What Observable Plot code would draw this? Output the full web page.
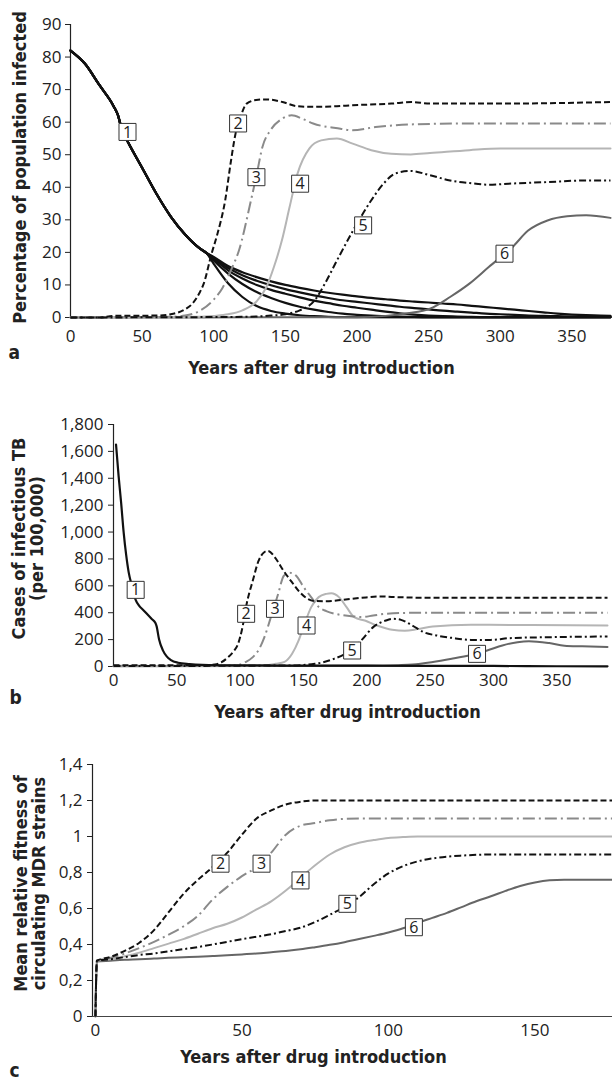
<!DOCTYPE html>
<html><head><meta charset="utf-8">
<script src="https://cdn.jsdelivr.net/npm/d3@7"></script>
<script src="https://cdn.jsdelivr.net/npm/@observablehq/plot@0.6"></script>
<style>
body{margin:0;background:#fff;}
#root{position:relative;width:612px;height:1088px;overflow:hidden;background:#fff;}
.panel{position:absolute;left:0;}
</style></head><body><div id="root"></div>
<script>
// ---------- Panel a: Percentage of population infected ----------
const a1Trunk = [[0,82],[10,78],[20,71.5],[30,65],[33,62.3],[36,57.5],[40,54],[50,46],[60,38],[70,31],[80,25.5],[90,21.3],[95,19.8]];
const a1BranchA = [[100,16.5],[110,10.5],[120,6.3],[130,3.5],[140,2],[150,1.2],[160,0.7],[170,0.4],[180,0.2],[190,0.1],[250,0.05],[377,0.05]];
const a1BranchB = [[100,17.5],[110,13.5],[120,10.3],[130,7.8],[140,6],[150,4.5],[160,3.3],[170,2.4],[180,1.7],[190,1.2],[200,0.8],[210,0.6],[220,0.4],[230,0.3],[240,0.2],[260,0.1],[377,0.1]];
const a1BranchC = [[100,18],[110,14.5],[120,12],[130,10],[140,8.5],[150,7.3],[160,6.2],[170,5.2],[180,4.4],[190,3.6],[200,3],[210,2.4],[220,1.8],[230,1.3],[240,0.9],[250,0.6],[260,0.4],[270,0.3],[280,0.2],[300,0.1],[377,0.1]];
const a1BranchD = [[100,18.3],[110,15.2],[120,13],[130,11.3],[140,9.9],[150,8.7],[160,7.7],[170,6.8],[180,6],[190,5.3],[200,4.8],[210,4.3],[220,3.8],[230,3.3],[240,2.9],[250,2.5],[260,2.1],[270,1.8],[280,1.5],[290,1.2],[300,1],[310,0.8],[320,0.6],[330,0.5],[340,0.4],[350,0.3],[377,0.2]];
const a1BranchE = [[100,18.6],[110,15.8],[120,13.9],[130,12.4],[140,11.1],[150,10],[160,9.1],[170,8.3],[180,7.6],[190,7],[200,6.5],[210,6],[220,5.6],[230,5.2],[240,4.9],[250,4.6],[260,4.3],[270,4],[280,3.6],[290,3.2],[300,2.8],[310,2.4],[320,2],[330,1.6],[340,1.2],[350,0.9],[360,0.7],[370,0.6],[377,0.5]];
const a2 = [[0,0],[20,0],[30,0.5],[60,0.6],[70,1],[80,2.5],[85,4.2],[90,7.5],[93,10.4],[98.5,19.6],[102.6,25.7],[108,36],[112,48],[115,56],[119,62],[123,65.7],[131,66.9],[137,67],[148,66.2],[158,64.9],[169,64.7],[186,64.9],[197,65.2],[224,65.7],[238,66.2],[251,65.7],[300,65.7],[377,66.2]];
const a3 = [[0,0],[70,0.2],[80,0.6],[90,2],[100,5.5],[106,9],[112,14.5],[117.6,20.6],[126,36],[130,44],[134,52.4],[139.6,57.5],[147.6,61],[154.4,62.1],[162,61],[169.4,59.6],[188.5,58],[196.7,57.5],[213,58.5],[237.6,59.3],[280,59.6],[377,59.6]];
const a4 = [[0,0],[90,0.2],[100,0.5],[110,1],[120,2.2],[130,5],[136.7,9.3],[142,15.5],[147.6,23.7],[153,34],[158.5,44.2],[166.7,51.9],[175,54.4],[186,55],[197,53.4],[210,51.4],[224,50.3],[237.6,50.1],[251,50.5],[278.5,51.4],[300,51.9],[377,51.9]];
const a5 = [[0,0],[120,0.2],[140,0.6],[150,1],[160,2.2],[170,5],[177.6,10.4],[186,17.5],[197,26.5],[210,36],[218.5,41.1],[226.7,44.2],[237.6,45],[251,43.7],[265,42.1],[278.5,41.3],[292,40.8],[305.8,41.1],[333,41.6],[360,42.1],[377,42.1]];
const a6 = [[0,0],[200,0.1],[220,0.5],[235,1.3],[251,2.7],[265,6.3],[278.5,10.4],[292,15.5],[308.5,21.6],[319.5,26.7],[333,29.8],[346.7,31.1],[360,31.4],[377,30.6]];
const labelNames = ["1","2","3","4","5","6"];
const labelYearsA = [39.8,117,129.8,160.3,204.3,303];
const labelValuesA = [57,59.6,43.1,41.1,28.3,19.6];
const ticksXA = [0,50,100,150,200,250,300,350];
const ticksYA = [0,10,20,30,40,50,60,70,80,90];

// ---------- Panel b: Cases of infectious TB ----------
const b1 = [[2,1650],[4,1420],[6,1220],[8,1000],[10,830],[12,700],[14.5,600],[17.5,495],[20,455],[24,415],[28,375],[30,355],[33,325],[34,300],[36,200],[39,120],[42,75],[45,50],[51,28],[60,18],[70,12],[85,9],[100,8],[150,7],[200,6],[250,5],[300,4],[350,2],[390,1]];
const b2 = [[0,10],[70,10],[80,14],[85,30],[90,65],[95,115],[98,160],[102,300],[105,460],[110,640],[114.5,785],[119,850],[122,860],[128,805],[134,715],[141,625],[147,553],[153,505],[159,487],[168,486],[181,496],[196,511],[211,521],[221,517],[250,511],[390,511]];
const b3 = [[0,5],[95,8],[100,15],[104,32],[110,70],[115,130],[119,215],[125,390],[130,540],[134.5,675],[139,697],[144,677],[150,592],[156,516],[162,443],[168,412],[177,388],[190,372],[196,368],[205,379],[215,392],[236,399],[390,399]];
const b4 = [[0,3],[120,8],[128,20],[135,35],[141,95],[146,190],[150,295],[156,440],[162,516],[168,540],[172,545],[178,516],[184,441],[190,367],[199,340],[208,305],[220,273],[230,266],[240,278],[252,298],[282,310],[330,308],[390,305]];
const b5 = [[0,3],[140,8],[159,20],[174,57],[183,95],[190,140],[196,198],[205,293],[215,342],[221,355],[227,347],[236,305],[245,255],[255,231],[267,213],[282,198],[298,198],[313,211],[344,218],[390,223]];
const b6 = [[0,2],[200,5],[225,10],[236,15],[251,32],[267,57],[282,85],[295,119],[307,156],[319,181],[328,188],[344,174],[356,155],[370,150],[390,145]];
const labelYearsB = [17.5,104.7,127.5,152.4,188.4,287];
const labelValuesB = [570,392,429,305,119,94];
const ticksXB = [0,50,100,150,200,250,300,350];
const ticksYB = [0,200,400,600,800,1000,1200,1400,1600,1800];

// ---------- Panel c: Mean relative fitness ----------
const c2 = [[0,0],[0.5,0.31],[5,0.33],[10,0.365],[15,0.41],[20,0.48],[25,0.58],[30,0.68],[35,0.76],[40,0.83],[45,0.91],[50,1.01],[55,1.1],[60,1.145],[65,1.178],[70,1.193],[75,1.2],[176.5,1.2]];
const c3 = [[0,0],[0.5,0.31],[5,0.325],[10,0.35],[15,0.38],[20,0.415],[25,0.455],[30,0.5],[35,0.56],[40,0.65],[45,0.72],[50,0.78],[55,0.83],[60,0.91],[65,1.01],[70,1.06],[75,1.075],[80,1.09],[85,1.098],[90,1.1],[176.5,1.1]];
const c4 = [[0,0],[0.5,0.31],[5,0.318],[10,0.335],[15,0.355],[20,0.38],[25,0.405],[30,0.43],[35,0.46],[40,0.49],[45,0.515],[50,0.55],[55,0.595],[60,0.64],[65,0.7],[70,0.77],[75,0.84],[80,0.9],[85,0.94],[90,0.965],[95,0.98],[100,0.992],[105,0.997],[110,1],[176.5,1]];
const c5 = [[0,0],[0.5,0.31],[5,0.318],[10,0.33],[15,0.342],[20,0.35],[25,0.362],[30,0.374],[35,0.386],[40,0.4],[45,0.415],[50,0.43],[55,0.443],[60,0.457],[65,0.475],[70,0.493],[75,0.525],[80,0.565],[85,0.61],[90,0.663],[95,0.735],[100,0.795],[105,0.835],[110,0.862],[115,0.878],[120,0.888],[125,0.894],[130,0.898],[135,0.9],[176.5,0.9]];
const c6 = [[0,0],[0.5,0.305],[5,0.31],[10,0.315],[15,0.318],[20,0.322],[25,0.326],[30,0.329],[35,0.332],[40,0.336],[45,0.34],[50,0.345],[55,0.35],[60,0.357],[65,0.364],[70,0.373],[75,0.385],[80,0.398],[85,0.413],[90,0.43],[95,0.448],[100,0.467],[105,0.49],[110,0.52],[115,0.548],[120,0.576],[125,0.608],[130,0.64],[135,0.668],[140,0.698],[145,0.725],[150,0.745],[155,0.757],[160,0.76],[176.5,0.76]];
const labelNamesC = ["2","3","4","5","6"];
const labelYearsC = [42.7,56.7,70,86,108.7];
const labelValuesC = [0.849,0.849,0.756,0.626,0.496];
const ticksXC = [0,50,100,150];
const ticksYC = [0,0.2,0.4,0.6,0.8,1,1.2,1.4];

// ---------- styles ----------
const STY = {
  s1: {stroke:"#111", strokeWidth:2.2},
  s2: {stroke:"#111", strokeWidth:2, strokeDasharray:"6,3", strokeLinecap:"butt"},
  s3: {stroke:"#8a8a8a", strokeWidth:2, strokeDasharray:"12,4,2,4", strokeLinecap:"butt"},
  s4: {stroke:"#b5b5b5", strokeWidth:2},
  s5: {stroke:"#111", strokeWidth:2, strokeDasharray:"7,3,2,3", strokeLinecap:"butt"},
  s6: {stroke:"#666", strokeWidth:2}
};
const TITLE_FONT = "'Liberation Sans Narrow', 'DejaVu Sans Condensed', sans-serif";
const TICK_FONT = "'Open Sans', sans-serif";

function lineMark(data, sty) {
  return Plot.line(data, {x: d => d[0], y: d => d[1], curve: "monotone-x", ...sty});
}
function labelMarks(names, xs, ys) {
  const rows = names.map((n, i) => ({n, x: xs[i], y: ys[i]}));
  return [
    Plot.dot(rows, {x: "x", y: "y", symbol: "square", r: 9.6, fill: "white", stroke: "#333", strokeWidth: 1}),
    Plot.text(rows, {x: "x", y: "y", text: "n", fontSize: 16, fill: "#222", fontFamily: TICK_FONT, dy: 0.5})
  ];
}
function titleMark(txt, o) {
  return Plot.text([txt], {text: d => d, fontFamily: TITLE_FONT, fontWeight: "bold", fill: "#222", lineAnchor: "middle", ...o});
}

function panel(cfg) {
  const marks = [
    Plot.ruleX([cfg.xDomain[0]], {stroke: "#222", strokeWidth: 1.2}),
    ...(cfg.xLine ? [Plot.ruleY([0], {stroke: "#444", strokeWidth: 1.2})] : []),
    Plot.axisY({ticks: cfg.yTicks, tickFormat: cfg.yFormat, tickSize: 5, tickPadding: cfg.yPad, label: null, stroke: "#222"}),
    Plot.axisX({ticks: cfg.xTicks, tickSize: 0, tickPadding: cfg.xPad, label: null}),
    ...cfg.lines,
    ...cfg.labels,
    titleMark(cfg.xTitle, {frameAnchor: "bottom", textAnchor: "middle", dx: cfg.xTitleDx, dy: cfg.xTitleDy, fontSize: 18}),
    titleMark(cfg.letter, {frameAnchor: "bottom-left", textAnchor: "start", dx: cfg.letterDx, dy: cfg.letterDy, fontSize: 19}),
    titleMark(cfg.yTitle, {frameAnchor: "left", textAnchor: "middle", rotate: -90, dx: cfg.yTitleDx, dy: cfg.yTitleDy, fontSize: 18, lineHeight: 1.0})
  ];
  return Plot.plot({
    width: 612, height: cfg.height,
    marginTop: cfg.mt, marginBottom: cfg.mb, marginLeft: cfg.ml, marginRight: cfg.mr,
    x: {domain: cfg.xDomain},
    y: {domain: cfg.yDomain},
    style: {fontFamily: TICK_FONT, fontSize: "17px", color: "#222", background: "transparent", overflow: "visible"},
    marks
  });
}

const fmtComma = d3.format(",");
const fmtDec = d => Number.isInteger(d) ? String(d) : d.toFixed(1).replace(".", ",");

const pa = panel({
  height: 385, mt: 24, mb: 68, ml: 70, mr: 2,
  xDomain: [0, 377], yDomain: [0, 90], xTicks: ticksXA, yTicks: ticksYA, yFormat: d => String(d), yPad: 4, xPad: 12, xLine: false,
  lines: [
    lineMark(a1Trunk.concat(a1BranchA), STY.s1), lineMark(a1Trunk.concat(a1BranchB), STY.s1),
    lineMark(a1Trunk.concat(a1BranchC), STY.s1), lineMark(a1Trunk.concat(a1BranchD), STY.s1),
    lineMark(a1Trunk.concat(a1BranchE), STY.s1),
    lineMark(a6, STY.s6), lineMark(a4, STY.s4), lineMark(a3, STY.s3), lineMark(a5, STY.s5), lineMark(a2, STY.s2)
  ],
  labels: labelMarks(labelNames, labelYearsA, labelValuesA),
  xTitle: "Years after drug introduction", xTitleDx: -19, xTitleDy: 51,
  letter: "a", letterDx: -62, letterDy: 35,
  yTitle: "Percentage of population infected", yTitleDx: -50, yTitleDy: -3.5
});
const pb = panel({
  height: 335, mt: 39, mb: 54, ml: 113, mr: 5,
  xDomain: [0, 390], yDomain: [0, 1800], xTicks: ticksXB, yTicks: ticksYB, yFormat: fmtComma, yPad: 5, xPad: 7, xLine: true,
  lines: [lineMark(b6, STY.s6), lineMark(b4, STY.s4), lineMark(b3, STY.s3), lineMark(b5, STY.s5), lineMark(b2, STY.s2), lineMark(b1, STY.s1)],
  labels: labelMarks(labelNames, labelYearsB, labelValuesB),
  xTitle: "Years after drug introduction", xTitleDx: -13, xTitleDy: 46,
  letter: "b", letterDx: -104, letterDy: 31,
  yTitle: "Cases of infectious TB\n(per 100,000)", yTitleDx: -85, yTitleDy: -7
});
const pc = panel({
  height: 368, mt: 44, mb: 72, ml: 92, mr: 0,
  xDomain: [-1, 176.5], yDomain: [0, 1.4], xTicks: ticksXC, yTicks: ticksYC, yFormat: fmtDec, yPad: 5, xPad: 7, xLine: true,
  lines: [lineMark(c6, STY.s6), lineMark(c4, STY.s4), lineMark(c3, STY.s3), lineMark(c5, STY.s5), lineMark(c2, STY.s2)],
  labels: labelMarks(labelNamesC, labelYearsC, labelValuesC),
  xTitle: "Years after drug introduction", xTitleDx: -39, xTitleDy: 41,
  letter: "c", letterDx: -83, letterDy: 54,
  yTitle: "Mean relative fitness of\ncirculating MDR strains", yTitleDx: -62, yTitleDy: -7
});

const root = document.getElementById("root");
[[pa, 0], [pb, 385], [pc, 720]].forEach(([el, top]) => {
  const d = document.createElement("div");
  d.className = "panel";
  d.style.top = top + "px";
  d.appendChild(el);
  root.appendChild(d);
});
</script></body></html>
